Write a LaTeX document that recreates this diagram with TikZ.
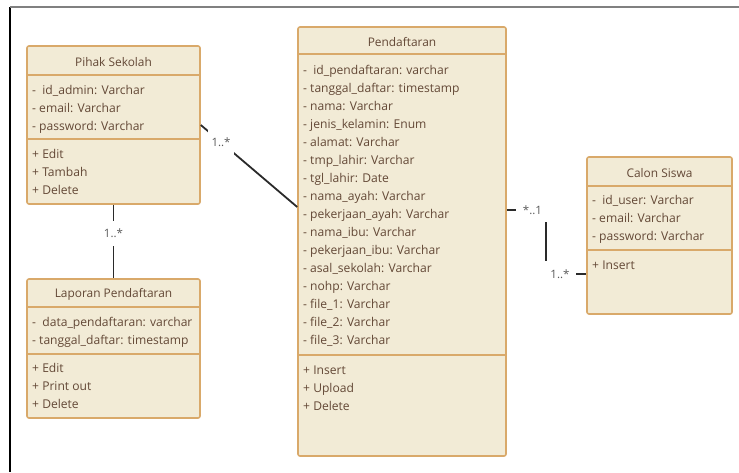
\documentclass[tikz,border=0pt]{standalone}
\usepackage{fontspec}
\setmainfont{Open Sans}
\usetikzlibrary{positioning,calc}
\definecolor{umlfill}{HTML}{F2EBD6}
\definecolor{umlline}{HTML}{D9A96A}
\definecolor{umltext}{HTML}{634836}
\definecolor{multtext}{HTML}{5A5A5A}
\definecolor{wire}{HTML}{2A2A2A}
\tikzset{
  classbox/.style={rectangle, draw=umlline, fill=umlfill, line width=1.6pt, rounded corners=2pt, inner sep=0pt},
  divider/.style={draw=umlline, line width=1.6pt},
  classtitle/.style={text=umltext, font=\fontsize{11.9}{14}\selectfont, anchor=base, inner sep=0pt},
  member/.style={text=umltext, font=\fontsize{12.1}{14}\selectfont, anchor=base west, inner sep=0pt},
  assoc/.style={draw=wire, line width=1.8pt},
  mult/.style={fill=white, text=multtext, font=\fontsize{11.5}{13}\selectfont, inner sep=0pt},
}
\begin{document}
\begin{tikzpicture}[x=1pt, y=-1pt]
  \useasboundingbox (0,0) rectangle (739,472);

  % --- 1. Page frame ---
  \draw[black, line width=1.2pt] (10,7) -- (10,472);
  \draw[gray, line width=2pt] (10,6.5) -- (739,6.5);

  % --- 2. Class boxes ---
  \node[classbox, minimum width=173pt, minimum height=158pt] (pihak) at (113.5,125) {};
  \node[classbox, minimum width=173pt, minimum height=139pt] (laporan) at (113.5,348.5) {};
  \node[classbox, minimum width=208pt, minimum height=429pt] (daftar) at (402,241.5) {};
  \node[classbox, minimum width=145pt, minimum height=157pt] (siswa) at (659.5,235.5) {};

  % compartment lines
  \draw[divider] (pihak.west |- 0,75) -- (pihak.east |- 0,75);
  \draw[divider] (pihak.west |- 0,139) -- (pihak.east |- 0,139);
  \draw[divider] (laporan.west |- 0,307) -- (laporan.east |- 0,307);
  \draw[divider] (laporan.west |- 0,354) -- (laporan.east |- 0,354);
  \draw[divider] (daftar.west |- 0,54) -- (daftar.east |- 0,54);
  \draw[divider] (daftar.west |- 0,355) -- (daftar.east |- 0,355);
  \draw[divider] (siswa.west |- 0,186) -- (siswa.east |- 0,186);
  \draw[divider] (siswa.west |- 0,250) -- (siswa.east |- 0,250);

  % --- 3. Pihak Sekolah ---
  \node[classtitle] (pihak-t) at (113.5,66) {Pihak Sekolah};
  \foreach \txt [count=\i] in {-\ \ id\_admin: Varchar, - email: Varchar, - password: Varchar}
    \node[member] (pihak-a\i) at (32,76+18*\i) {\txt};
  \foreach \txt [count=\i] in {+ Edit, + Tambah, + Delete}
    \node[member] (pihak-m\i) at (32,140+18*\i) {\txt};

  % --- 4. Laporan Pendaftaran ---
  \node[classtitle] (laporan-t) at (113.5,297) {Laporan Pendaftaran};
  \foreach \txt [count=\i] in {-\ \ data\_pendaftaran: varchar, - tanggal\_daftar: timestamp}
    \node[member] (laporan-a\i) at (32,308+18*\i) {\txt};
  \foreach \txt [count=\i] in {+ Edit, + Print out, + Delete}
    \node[member] (laporan-m\i) at (32,354+18*\i) {\txt};

  % --- 5. Pendaftaran ---
  \node[classtitle] (daftar-t) at (402,46) {Pendaftaran};
  \foreach \txt [count=\i] in {-\ \ id\_pendaftaran: varchar, - tanggal\_daftar: timestamp,
      - nama: Varchar, - jenis\_kelamin: Enum, - alamat: Varchar, - tmp\_lahir: Varchar,
      - tgl\_lahir: Date, - nama\_ayah: Varchar, - pekerjaan\_ayah: Varchar,
      - nama\_ibu: Varchar, - pekerjaan\_ibu: Varchar, - asal\_sekolah: Varchar,
      - nohp: Varchar, - file\_1: Varchar, - file\_2: Varchar, - file\_3: Varchar}
    \node[member] (daftar-a\i) at (303,56+18*\i) {\txt};
  \foreach \txt [count=\i] in {+ Insert, + Upload, + Delete}
    \node[member] (daftar-m\i) at (303,356+18*\i) {\txt};

  % --- 6. Calon Siswa ---
  \node[classtitle] (siswa-t) at (659.5,177) {Calon Siswa};
  \foreach \txt [count=\i] in {-\ \ id\_user: Varchar, - email: Varchar, - password: Varchar}
    \node[member] (siswa-a\i) at (592,186+18*\i) {\txt};
  \node[member] (siswa-m1) at (592,269) {+ Insert};

  % --- 7. Associations ---
  \draw[assoc] (pihak.east |- 0,125) -- node[mult, pos=0.21, minimum width=26pt, minimum height=25pt] (m1) {1..*} (daftar.west |- 0,207);
  \draw[assoc] (pihak.south) -- node[mult, pos=0.39, minimum width=26pt, minimum height=25pt] (m2) {1..*} (laporan.north);
  \coordinate (bend) at (546,242);
  \draw[assoc] (daftar.east |- 0,210) -| (bend) |- (siswa.west |- 0,274);
  \node[mult, minimum width=34pt, minimum height=23pt] (m3) at (532.5,210.5) {*..1};
  \node[mult, minimum width=32pt, minimum height=26pt] (m4) at (560,274) {1..*};
\end{tikzpicture}
\end{document}
